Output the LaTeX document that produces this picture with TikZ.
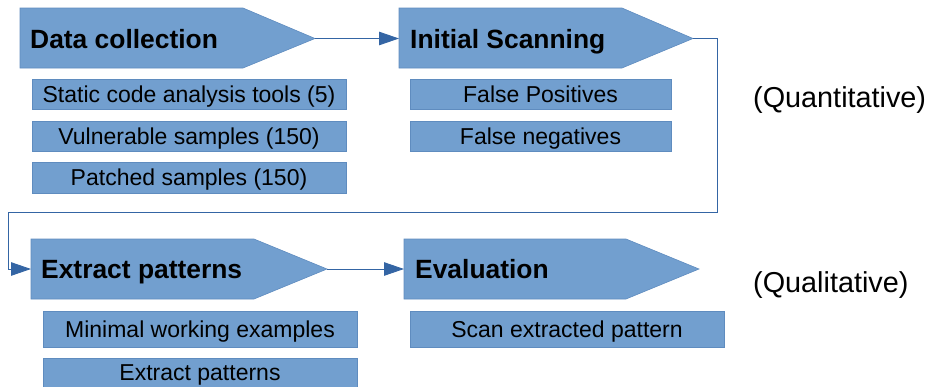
\documentclass[tikz,border=0pt]{standalone}
\usepackage{fontspec}
\setmainfont{Liberation Sans}
\usetikzlibrary{arrows.meta}
\definecolor{boxfill}{HTML}{729FCF}
\definecolor{boxedge}{HTML}{5F8CBF}
\definecolor{linecol}{HTML}{3465A4}
\tikzset{
  pent/.style={fill=boxfill, draw=boxedge, line width=0.6pt},
  title/.style={anchor=base west, inner sep=0pt, font=\fontsize{26.4}{31}\selectfont\bfseries},
  subbox/.style={fill=boxfill, draw=boxedge, line width=0.6pt, inner sep=0pt,
    text height=21pt, text depth=4.6pt, font=\fontsize{23}{27}\selectfont},
  side/.style={anchor=base west, inner sep=0pt, font=\fontsize{28.8}{34}\selectfont},
  conn/.style={draw=linecol, line width=0.9pt, -{Triangle[length=20pt, width=13.5pt]}}
}
\begin{document}
\begin{tikzpicture}[x=1pt,y=-1pt]
\useasboundingbox (0,0) rectangle (931,386);
% pentagons
\path[pent] (20,8) -- (243,8) -- (315,38.5) -- (243,68) -- (20,68) -- cycle;
\coordinate (dcL) at (20,38.5); \coordinate (dcR) at (315,38.5);
\path[pent] (399,8) -- (622,8) -- (693,38.5) -- (622,68) -- (399,68) -- cycle;
\coordinate (isL) at (399,38.5); \coordinate (isR) at (693,38.5);
\path[pent] (31,239) -- (254,239) -- (327,269) -- (254,299) -- (31,299) -- cycle;
\coordinate (epL) at (31,269); \coordinate (epR) at (327,269);
\path[pent] (404,239) -- (626,239) -- (699,269) -- (626,299) -- (404,299) -- cycle;
\coordinate (evL) at (404,269); \coordinate (evR) at (699,269);
% titles
\node[title] (t1) at (30,48) {Data collection};
\node[title] (t2) at (410,48) {Initial Scanning};
\node[title] (t3) at (41,278.5) {Extract patterns};
\node[title] (t4) at (415,278.5) {Evaluation};
% sub boxes
\node[subbox, minimum width=314pt, minimum height=30pt] (a1) at (189,94) {Static code analysis tools (5)};
\node[subbox, minimum width=314pt, minimum height=30pt] (a2) at (189,136) {Vulnerable samples (150)};
\node[subbox, minimum width=314pt, minimum height=31pt] (a3) at (189,177.5) {Patched samples (150)};
\node[subbox, minimum width=261pt, minimum height=30pt] (b1) at (540.5,94) {False Positives};
\node[subbox, minimum width=261pt, minimum height=30pt] (b2) at (540.5,136) {False negatives};
\node[subbox, minimum width=314pt, minimum height=36pt] (c1) at (200,329) {Minimal working examples};
\node[subbox, minimum width=314pt, minimum height=29pt] (c2) at (200,372.5) {Extract patterns};
\node[subbox, minimum width=314pt, minimum height=36pt] (d1) at (567,329) {Scan extracted pattern};
% side labels
\node[side] (q1) at (753,107) {(Quantitative)};
\node[side] (q2) at (753,292) {(Qualitative)};
% connectors
\draw[conn] (dcR) -- (isL);
\draw[conn] (isR) -- ++(24,0) |- (8,212) |- (epL);
\draw[conn] (epR) -- (evL);
\end{tikzpicture}
\end{document}
